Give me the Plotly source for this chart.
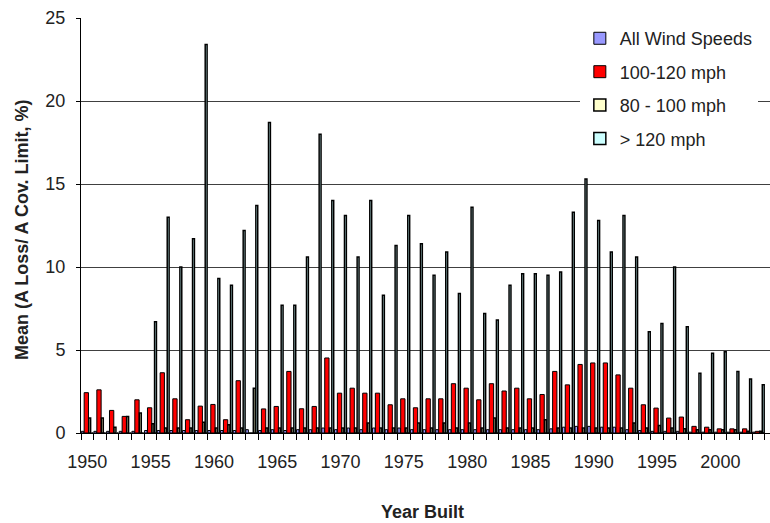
import plotly.graph_objects as go

years = list(range(1950, 2004))

all_speeds = [0.1, 0.1, 0.1, 0.1, 0.1, 0.15, 0.15, 0.15, 0.15, 0.15,
              0.15, 0.15, 0.15, 0.2, 0.15, 0.2, 0.15, 0.2, 0.2, 0.3,
              0.2, 0.3, 0.2, 0.3, 0.2, 0.3, 0.2, 0.2, 0.2, 0.2,
              0.2, 0.2, 0.2, 0.2, 0.2, 0.2, 0.2, 0.25, 0.35, 0.4,
              0.4, 0.35, 0.35, 0.2, 0.15, 0.1, 0.1, 0.1, 0.05, 0.05,
              0.05, 0.05, 0.05, 0.05]

mph_100_120 = [2.43, 2.6, 1.36, 1.0, 2.0, 1.52, 3.63, 2.06, 0.8, 1.62,
               1.72, 0.8, 3.15, 0.0, 1.45, 1.6, 3.71, 1.46, 1.6, 4.52,
               2.4, 2.7, 2.4, 2.4, 1.7, 2.06, 1.52, 2.06, 2.06, 2.97,
               2.7, 2.0, 2.97, 2.53, 2.7, 2.06, 2.32, 3.71, 2.9, 4.13,
               4.22, 4.22, 3.5, 2.7, 1.7, 1.5, 0.9, 0.96, 0.4, 0.35,
               0.25, 0.25, 0.25, 0.1]

mph_80_100 = [0.9, 0.9, 0.35, 1.0, 1.2, 0.55, 0.3, 0.3, 0.3, 0.65,
              0.3, 0.5, 0.3, 2.7, 0.3, 0.3, 0.3, 0.3, 0.3, 0.3,
              0.3, 0.3, 0.6, 0.3, 0.3, 0.3, 0.6, 0.3, 0.6, 0.3,
              0.6, 0.3, 0.9, 0.3, 0.3, 0.3, 0.8, 0.3, 0.3, 0.3,
              0.3, 0.3, 0.3, 0.6, 0.3, 0.45, 0.3, 0.25, 0.2, 0.2,
              0.2, 0.2, 0.1, 0.1]

mph_over_120 = [0, 0, 0, 0, 0, 6.7, 13.0, 10.0, 11.7, 23.4,
                9.3, 8.9, 12.2, 13.7, 18.7, 7.7, 7.7, 10.6, 18.0, 14.0,
                13.1, 10.6, 14.0, 8.3, 11.3, 13.1, 11.4, 9.5, 10.9, 8.4,
                13.6, 7.2, 6.8, 8.9, 9.6, 9.6, 9.5, 9.7, 13.3, 15.3,
                12.8, 10.9, 13.1, 10.6, 6.1, 6.6, 10.0, 6.4, 3.6, 4.8,
                4.9, 3.7, 3.25, 2.9]

label_years = [1950, 1955, 1960, 1965, 1970, 1975, 1980, 1985, 1990, 1995, 2000]

idx = list(range(len(years)))
FONT = "Liberation Sans, Arial, sans-serif"
TXT = "#222222"

series = [
    ("All Wind Speeds", all_speeds, "#9999FF", -0.48, 0.2, 1.0),
    ("100-120 mph", mph_100_120, "#FF0000", -0.25, 0.34, 1.0),
    ("80 - 100 mph", mph_80_100, "#FFFFCC", 0.11, 0.15, 1.5),
    ("> 120 mph", mph_over_120, "#CCFFFF", 0.31, 0.15, 1.5),
]

fig = go.Figure()
for name, vals, col, off, w, lw in series:
    fig.add_trace(go.Bar(
        x=idx, y=vals, name=name, legendgroup=name,
        offset=off, width=w,
        marker=dict(color=col, line=dict(color="black", width=lw)),
        customdata=years,
        hovertemplate="%{customdata}: %{y}<extra>" + name + "</extra>",
    ))

fig.update_layout(
    width=770, height=523,
    margin=dict(l=81, r=0, t=18, b=90),
    barmode="overlay",
    plot_bgcolor="white", paper_bgcolor="white",
    font=dict(family=FONT, size=18, color=TXT),
    showlegend=True,
    legend=dict(
        x=0.724, xanchor="left", y=0.995, yanchor="top",
        bgcolor="white", borderwidth=0,
        font=dict(family=FONT, size=18, color=TXT),
        tracegroupgap=7, traceorder="grouped",
    ),
    xaxis=dict(
        range=[-0.5, 53.92],
        tickmode="array",
        tickvals=[y - 1950 for y in label_years],
        ticktext=[str(y) for y in label_years],
        ticks="", ticklabelstandoff=12,
        showgrid=False, zeroline=False,
        showline=True, linecolor="black", linewidth=1,
        tickfont=dict(family=FONT, size=18, color=TXT),
        minor=dict(ticks="outside", ticklen=6, tickcolor="black",
                   tickmode="linear", tick0=-0.5, dtick=1, showgrid=False),
    ),
    yaxis=dict(
        range=[0, 25], tickmode="linear", tick0=0, dtick=5,
        ticks="outside", ticklen=4, tickcolor="black",
        ticklabelstandoff=7,
        showgrid=True, gridcolor="#404040", gridwidth=1,
        zeroline=False,
        showline=True, linecolor="black", linewidth=1,
        tickfont=dict(family=FONT, size=18, color=TXT),
    ),
    annotations=[
        dict(text="<b>Mean (A Loss/ A Cov. Limit, %)</b>", textangle=-90,
             xref="paper", yref="paper", x=-0.0856, y=0.489,
             xanchor="center", yanchor="middle", showarrow=False,
             font=dict(family=FONT, size=18, color=TXT)),
        dict(text="<b>Year Built</b>",
             xref="paper", yref="paper", x=0.495, y=-0.19,
             xanchor="center", yanchor="middle", showarrow=False,
             font=dict(family=FONT, size=18, color=TXT)),
    ],
)

fig.write_html("out.html",
               config={"displayModeBar": False},
               post_script="document.body.style.margin='0';document.body.style.padding='0';")
